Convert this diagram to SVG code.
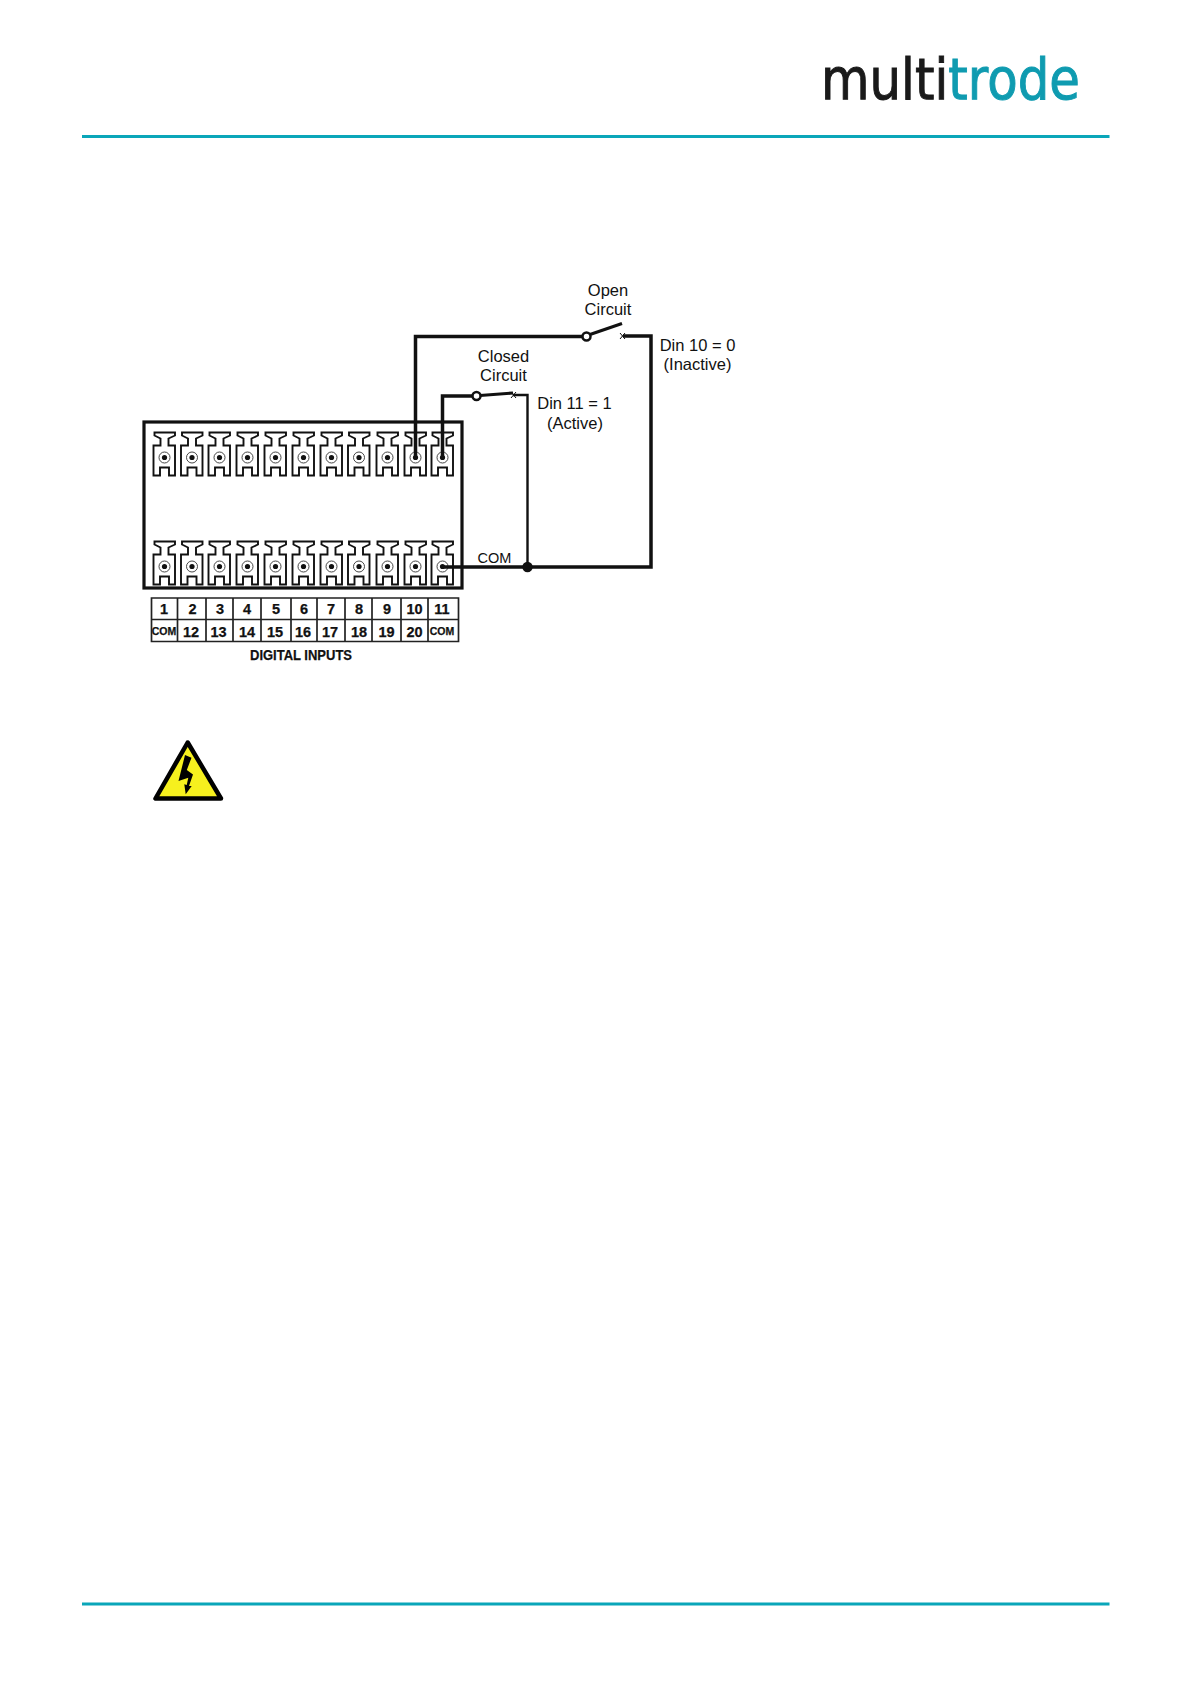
<svg xmlns="http://www.w3.org/2000/svg" width="1191" height="1683" viewBox="0 0 1191 1683">
<style>
text{font-family:"Liberation Sans",Arial,sans-serif;fill:#111}
.l{font-size:16.500px;text-anchor:middle}
.n{font-size:14.500px;font-weight:bold;text-anchor:middle;stroke:#111;stroke-width:.25}
.c{font-size:10.500px;font-weight:bold;text-anchor:middle;stroke:#111;stroke-width:.25}
.w{fill:none;stroke:#111;stroke-width:3.500}
.t{fill:#fff;stroke:#111;stroke-width:1.900}
.teal{stroke:#0aa6b9;stroke-width:3}
.g{fill:none;stroke:#222;stroke-width:1.700}
.logo{font-family:"DejaVu Sans",sans-serif;font-size:57px;stroke-width:1}
</style>
<defs>
<g id="term">
<path class="t" d="M-10,-25 H10.500 V-22 L4,-19 V-12 H10.500 V18 H4.500 V10 H-4.500 V18 H-11 V-12 H-4 V-19 L-10,-22 Z"/>
<circle r="5.500" fill="#fff" stroke="#333" stroke-width="0.900"/>
<circle r="2.600" fill="#111"/>
</g>
</defs>
<g id="header"><line class="teal" x1="82" y1="136.500" x2="1109.500" y2="136.500"/>
<text class="logo" x="821" y="99" textLength="259" lengthAdjust="spacingAndGlyphs"><tspan style="fill:#1a1a1a;stroke:#1a1a1a">multi</tspan><tspan style="fill:#0f9bb0;stroke:#0f9bb0">trode</tspan></text>
</g>
<g id="footer"><line class="teal" x1="82" y1="1604" x2="1109.500" y2="1604"/></g>
<g id="terminal-block">
<rect x="144" y="422" width="318" height="166" fill="#fff" stroke="#111" stroke-width="3.200"/>
<use href="#term" x="164.500" y="457.500"/><use href="#term" x="192" y="457.500"/><use href="#term" x="219.500" y="457.500"/><use href="#term" x="247.500" y="457.500"/><use href="#term" x="275.500" y="457.500"/><use href="#term" x="303.500" y="457.500"/><use href="#term" x="331.500" y="457.500"/><use href="#term" x="359" y="457.500"/><use href="#term" x="387.500" y="457.500"/><use href="#term" x="415.500" y="457.500"/><use href="#term" x="442.500" y="457.500"/>
<use href="#term" x="164.500" y="566.500"/><use href="#term" x="192" y="566.500"/><use href="#term" x="219.500" y="566.500"/><use href="#term" x="247.500" y="566.500"/><use href="#term" x="275.500" y="566.500"/><use href="#term" x="303.500" y="566.500"/><use href="#term" x="331.500" y="566.500"/><use href="#term" x="359" y="566.500"/><use href="#term" x="387.500" y="566.500"/><use href="#term" x="415.500" y="566.500"/><use href="#term" x="442.500" y="566.500"/>
</g>
<g id="terminal-table">
<path class="g" d="M151.500,598H458.500V641.500H151.500ZM151.500,619.500H458.500M177.500,598V641.500M206,598V641.500M233,598V641.500M261,598V641.500M291,598V641.500M317,598V641.500M345,598V641.500M372,598V641.500M401,598V641.500M428,598V641.500"/>
<text class="n" x="164" y="614">1</text><text class="n" x="192.500" y="614">2</text><text class="n" x="220" y="614">3</text><text class="n" x="247" y="614">4</text><text class="n" x="276" y="614">5</text><text class="n" x="304" y="614">6</text><text class="n" x="331" y="614">7</text><text class="n" x="359" y="614">8</text><text class="n" x="387" y="614">9</text><text class="n" x="414.500" y="614">10</text><text class="n" x="442" y="614">11</text>
<text class="c" x="164" y="635">COM</text><text class="n" x="191" y="637">12</text><text class="n" x="218.500" y="637">13</text><text class="n" x="247" y="637">14</text><text class="n" x="275" y="637">15</text><text class="n" x="303" y="637">16</text><text class="n" x="330" y="637">17</text><text class="n" x="359" y="637">18</text><text class="n" x="386.500" y="637">19</text><text class="n" x="414.500" y="637">20</text><text class="c" x="442" y="635">COM</text>
<text x="250" y="660" font-size="14.500" font-weight="bold" textLength="102" lengthAdjust="spacingAndGlyphs" style="stroke:#111;stroke-width:.25">DIGITAL INPUTS</text>
</g>
<g id="connectors">
<path class="w" d="M415.500,457.500V336.500H582"/>
<path class="w" d="M442.500,457.500V396H472"/>
<path class="w" d="M442.500,567H651V336H623"/>
<path fill="none" stroke="#111" stroke-width="2.400" d="M513,395H527.500V567"/>
<path fill="none" stroke="#111" stroke-width="3" d="M590,334.500L622,323.500"/>
<path fill="none" stroke="#111" stroke-width="3" d="M480,395.500L513,393"/>
<path fill="none" stroke="#111" stroke-width="1" d="M620,333L625,339M511,392L516,398M516,392L511,398M625,333L620,339"/>
<circle cx="586.500" cy="336.500" r="4" fill="#fff" stroke="#111" stroke-width="2.500"/>
<circle cx="476.500" cy="396" r="4" fill="#fff" stroke="#111" stroke-width="2.500"/>
<circle cx="527.500" cy="567" r="5.200" fill="#111"/>
</g>
<g id="labels">
<text class="l" x="608" y="296">Open</text><text class="l" x="608" y="315">Circuit</text>
<text class="l" x="503.500" y="362">Closed</text><text class="l" x="503.500" y="381">Circuit</text>
<text class="l" x="574.500" y="409">Din 11 = 1</text><text class="l" x="575" y="429">(Active)</text>
<text class="l" x="697.500" y="351">Din 10 = 0</text><text class="l" x="697.500" y="370">(Inactive)</text>
<text x="477.500" y="563" font-size="14.500">COM</text>
</g>
<g id="warning">
<path d="M187.700,742.500L155.500,798.500H221Z" fill="#f6f01e" stroke="#000" stroke-width="4.500" stroke-linejoin="round"/>
<path d="M185,755L191.500,757.700L186.800,770L193,774.500L189,786L191.700,786L185.700,794.300L184.300,784.300L186.700,785L188.300,777.700L178.500,781Z" fill="#000"/>
</g>
</svg>
